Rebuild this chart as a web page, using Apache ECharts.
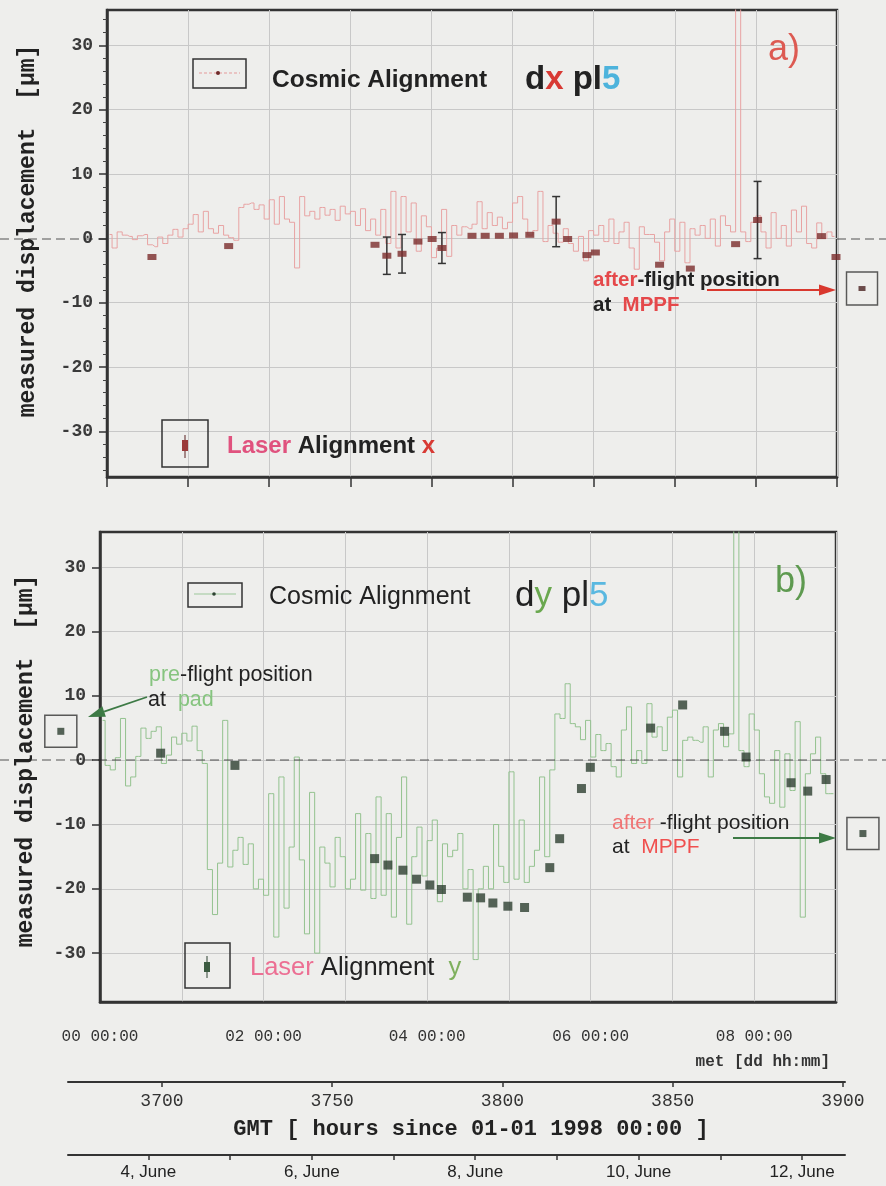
<!DOCTYPE html>
<html>
<head>
<meta charset="utf-8">
<script src="https://cdn.jsdelivr.net/npm/echarts@6/dist/echarts.min.js"></script>
<style>
  html, body { margin: 0; padding: 0; background: #eeeeec; }
  #chart { width: 886px; height: 1186px; }
</style>
</head>
<body>
<div id="chart"></div>
<script>
// ---- data -------------------------------------------------------------
// Cosmic-ray alignment histograms: one value per 1.5 h bin of mission elapsed time (MET)
const binHours = 1.5;
const cosmicDx = [
  0.6, -1.5,
  1.0, 0.5, 0.3, -0.2, 0.4, 0.6,
  -1.0, -1.3, 0.2, -0.8,   0.5, 1.4, 0.2, 1.5,   2.2, 3.7, 1.0, 4.2,   1.5, 0.8, 2.0, 0.5,
  0.1, -0.3, 4.8, 5.3,     5.5, 4.5, 5.2, 3.0,   6.0, 2.2, 6.5, 3.0,   2.5, -4.6, 6.5, 3.5,
  4.2, 3.0, 4.8, 3.6,      4.5, 2.8, 5.0, 3.8,   4.2, 2.0, 4.6, 1.2,   3.0, 0.5, 4.5, -0.8,
  7.3, -1.5, 6.5, 1.0,     5.5, -2.0, 3.5, 1.8,  -3.0, -1.5, 4.5, -2.8, 2.0, 0.5, 1.8, 1.5,
  2.2, 5.7, 1.5, 4.0,      2.0, 3.3, 1.5, 2.5,   5.5, 6.5, 3.0, 0.5,   1.2, 7.3, -0.5, 2.0,
  0.8, -0.6, 1.5, -0.8,   -2.0, 0.3, -3.5, 1.2,  0.5, 2.0, -0.5, 3.0,  -0.8, 1.0, 2.5, -1.5,
  -4.8, 1.8, 0.6, 0.6,    -0.6, -3.5, 1.0, 3.0, -2.0, 2.5, -3.8, 1.5,  0.5, 2.0, 0.0, 3.0,
  -1.2, 3.5, 2.0, 1.0,     60, 1.0, -0.5, 2.5,   3.5, 1.0, -1.5, 4.0,  0.0, 2.0, -1.2, 4.4,
  1.0, 5.0, -0.8, -1.5,    2.4, 0.0, 1.0, 0.3
];
const cosmicDy = [
  6.2, -0.8, -1.5, 0.4, 6.5, -4.0, -2.6, 0.6, 5.0, 3.4, 4.5, 5.2,
  -0.5, 0.8, 3.6, 2.5, 4.2, 3.0, 5.3, 1.5, -0.5, -17.0, -24.0, -16.0,
  6.2, -16.6, -14.0, -12.0, -16.2, -13.0, -20.0, -18.5, -21.0, -5.2, -27.5, -2.6,
  -23.0, -13.5, 0.5, -15.5, -27.0, -5.0, -30.0, -13.5, -16.0, -19.7, -12.0, -15.0,
  -20.0, -18.5, -8.3, -20.2, -11.4, -21.5, -5.7, -21.0, -8.3, -24.4, -12.0, -2.6,
  -25.5, -15.0, -10.4, -18.0, -12.5, -9.3, -22.0, -13.0, -15.0, -14.0, -11.4, -20.0,
  -17.0, -31.0, -20.0, -16.5, -20.0, -10.0, -16.5, -19.0, -1.8, -18.5, -9.3, -19.0,
  -16.5, -14.0, -2.6, -15.0, -1.5, 7.2, 6.5, 11.9, 5.7, 5.2, 3.2, 6.2,
  0.5, 4.0, 1.5, 2.6, -1.0, -2.6, 4.7, 8.3, -0.5, 1.5, -0.5, 8.8,
  3.6, 5.2, 1.5, 6.7, 7.8, -2.6, 3.1, 3.6, 3.1, 2.8, 5.2, -2.6,
  4.7, 5.7, 2.1, 4.1, 60, 1.5, -1.0, 7.2, 4.7, -2.1, -5.7, -6.7,
  1.5, -7.3, 1.0, -4.7, 6.0, -24.4, -2.1, 1.0, 3.6, -2.1, -5.2, -5.2
];

// Laser alignment, x (hours MET, displacement, error)
const laserXHours = [13.3, 36.0, 79.3, 82.8, 87.3, 92.0, 96.2, 99.1, 108.0, 111.9, 116.1, 120.3,
                     125.1, 132.9, 136.3, 142.0, 144.5, 163.5, 172.6, 186.0, 192.5, 211.4, 215.7];
const laserX      = [-2.9, -1.2, -1.0, -2.7, -2.4, -0.5, -0.1, -1.5, 0.4, 0.4, 0.4, 0.45,
                     0.55, 2.6, -0.1, -2.6, -2.2, -4.1, -4.7, -0.9, 2.85, 0.35, -2.9];
const laserXErr   = [0, 0, 0, 2.9, 3.0, 0, 0, 2.4, 0, 0, 0, 0,
                     0, 3.9, 0, 0, 0, 0, 0, 0, 6.0, 0, 0];

// Laser alignment, y
const laserYHours = [17.8, 39.6, 80.6, 84.5, 88.9, 92.9, 96.8, 100.2, 107.8, 111.7, 115.3, 119.7,
                     124.6, 132.0, 134.9, 141.3, 143.9, 161.6, 171.0, 183.3, 189.6, 202.8, 207.7, 213.1];
const laserY      = [1.1, -0.8, -15.3, -16.3, -17.1, -18.5, -19.4, -20.1, -21.3, -21.4, -22.2, -22.7,
                     -22.9, -16.7, -12.2, -4.4, -1.1, 5.0, 8.6, 4.5, 0.5, -3.5, -4.8, -3.0];

// Reference positions measured on ground
const afterFlightXHours = [223.4];
const afterFlightX      = [-7.8];
const afterFlightYHours = [223.9];
const afterFlightY      = [-11.4];
const preFlightYHours   = [-11.5];
const preFlightY        = [4.5];

// Tick positions and labels
const yTicks = [-30, -20, -10, 0, 10, 20, 30];
const yMinorTicks = [-36, -34, -32, -28, -26, -24, -22, -18, -16, -14, -12, -8, -6, -4, -2,
                     2, 4, 6, 8, 12, 14, 16, 18, 22, 24, 26, 28, 32, 34];
const metLabelHours = [0, 48, 96, 144, 192];
const gmtTicks = [3700, 3750, 3800, 3850, 3900];
const dateTicks = [3696, 3720, 3744, 3768, 3792, 3816, 3840, 3864, 3888];
const dateLabelHours = [3696, 3744, 3792, 3840, 3888];
const dateLabelText = ['4, June', '6, June', '8, June', '10, June', '12, June'];

// ---- layout -----------------------------------------------------------
const W = 886;
const hourSpan = 216;
const A = { left: 107, top: 10, width: 730, height: 467, yMin: -37.1, yMax: 35.5 };
const B = { left: 100, top: 532, width: 736, height: 470, yMin: -37.6, yMax: 35.5 };
function overlayRange(p) {
  const k = p.width / hourSpan;
  return [-p.left / k, (W - p.left) / k];
}
const oA = overlayRange(A), oB = overlayRange(B);
const gmtRange = [3672.4, 3900.6];

const ink = '#222';
const mono = '"Liberation Mono", "DejaVu Sans Mono", monospace';
const sans = '"Liberation Sans", Arial, sans-serif';
const narrow = '"Liberation Sans Narrow", "Liberation Sans", sans-serif';

const stepData = vals => vals.map((v, i) => [binHours * (i + 0.5), v]);
const pairs = (xs, ys) => xs.map((x, i) => [x, ys[i]]);

function panelY(p, idx) {
  return {
    gridIndex: idx, type: 'value', min: p.yMin, max: p.yMax,
    axisLine: { show: true, onZero: false, lineStyle: { color: '#333', width: 2.5 } },
    axisTick: { show: true, customValues: yTicks, length: 8, lineStyle: { color: '#333', width: 1.5 } },
    axisLabel: { customValues: yTicks, margin: 14, fontFamily: mono, fontSize: 18, fontWeight: 'bold', color: '#3a3a3a' },
    splitLine: { show: true, lineStyle: { color: '#c8c8c8', width: 1 } }
  };
}
function minorY(p, idx) {
  return {
    gridIndex: idx, type: 'value', min: p.yMin, max: p.yMax, position: 'left',
    axisLine: { show: false, onZero: false },
    axisTick: { show: true, customValues: yMinorTicks, length: 4, lineStyle: { color: '#444', width: 1 } },
    axisLabel: { show: false }, splitLine: { show: false }
  };
}
function hiddenAxis(idx, min, max) {
  return { gridIndex: idx, type: 'value', min, max, show: false, splitLine: { show: false } };
}

function metLabel(h) {
  const d = String(Math.floor(h / 24)).padStart(2, '0');
  const hh = String(h % 24).padStart(2, '0');
  return d + ' ' + hh + ':00';
}

// ---- annotation helpers -------------------------------------------------
function richText(x, y, parts, size, weight) {
  const rich = {};
  let text = '';
  parts.forEach(([s, c], i) => {
    rich['p' + i] = { fill: c, fontSize: size, fontWeight: weight, fontFamily: sans };
    text += '{p' + i + '|' + s + '}';
  });
  return { type: 'text', x, y, z: 50,
    style: { text, rich, align: 'left', verticalAlign: 'middle', fontSize: size, fontFamily: sans } };
}
function arrow(x1, y1, x2, y2, color) {
  const a = Math.atan2(y2 - y1, x2 - x1), L = 17, H = 5.5;
  const bx = x2 - L * Math.cos(a), by = y2 - L * Math.sin(a);
  return [
    { type: 'line', z: 50, shape: { x1, y1, x2: bx, y2: by }, style: { stroke: color, lineWidth: 1.8 } },
    { type: 'polygon', z: 50, shape: { points: [[x2, y2],
        [bx + H * Math.sin(a), by - H * Math.cos(a)], [bx - H * Math.sin(a), by + H * Math.cos(a)]] },
      style: { fill: color } }
  ];
}
function box(x, y, w, h) {
  return { type: 'rect', z: 50, shape: { x, y, width: w, height: h },
    style: { fill: 'none', stroke: '#333', lineWidth: 1.5 } };
}

const graphics = [
  // panel a
  box(193, 59, 53, 29),
  { type: 'line', z: 51, shape: { x1: 199, y1: 73, x2: 240, y2: 73 },
    style: { stroke: '#e59a9a', lineWidth: 1, lineDash: [3, 2] } },
  { type: 'circle', z: 52, shape: { cx: 218, cy: 73, r: 2 }, style: { fill: '#6e2a2a' } },
  richText(272, 80, [['Cosmic Alignment', ink]], 24.5, 'bold'),
  richText(525, 80, [['d', ink], ['x', '#d83a34'], [' pl', ink], ['5', '#4db3dc']], 33, 'bold'),
  richText(768, 50, [['a)', '#dd5a52']], 36, 'normal'),
  box(162, 420, 46, 47),
  { type: 'line', z: 51, shape: { x1: 185, y1: 435, x2: 185, y2: 458 }, style: { stroke: '#5a2020', lineWidth: 1 } },
  { type: 'rect', z: 52, shape: { x: 182, y: 440, width: 6, height: 11 }, style: { fill: '#9a3a3a' } },
  richText(227, 446, [['Laser', '#e0527e'], [' Alignment ', ink], ['x', '#d83a34']], 24, 'bold'),
  richText(593, 280, [['after', '#e5484a'], ['-flight position', ink]], 20.5, 'bold'),
  richText(593, 305, [['at  ', ink], ['MPPF', '#e5484a']], 20.5, 'bold'),
  ...arrow(707, 290, 836, 290, '#d9382e'),
  { type: 'text', z: 50, x: 28, y: 231, rotation: Math.PI / 2,
    style: { text: 'measured displacement  [μm]', font: 'bold 23px ' + mono, fill: ink, align: 'center', verticalAlign: 'middle' } },

  // panel b
  box(188, 583, 54, 24),
  { type: 'line', z: 51, shape: { x1: 194, y1: 594, x2: 236, y2: 594 }, style: { stroke: '#9cc79a', lineWidth: 1 } },
  { type: 'circle', z: 52, shape: { cx: 214, cy: 594, r: 1.8 }, style: { fill: '#2e4232' } },
  richText(269, 597, [['Cosmic Alignment', ink]], 25, 'normal'),
  richText(515, 596, [['d', ink], ['y', '#6aa84f'], [' pl', ink], ['5', '#5ab8e0']], 35, 'normal'),
  richText(775, 582, [['b)', '#5e9a50']], 36, 'normal'),
  richText(149, 675, [['pre', '#86c47f'], ['-flight position', ink]], 21.5, 'normal'),
  richText(148, 700, [['at  ', ink], ['pad', '#86c47f']], 21.5, 'normal'),
  ...arrow(147, 697, 88, 717, '#3d7a45'),
  box(185, 943, 45, 45),
  { type: 'line', z: 51, shape: { x1: 207, y1: 956, x2: 207, y2: 978 }, style: { stroke: '#2e4232', lineWidth: 1 } },
  { type: 'rect', z: 52, shape: { x: 204, y: 962, width: 6, height: 10 }, style: { fill: '#3b5a40' } },
  richText(250, 968, [['Laser', '#ec6f93'], [' Alignment  ', ink], ['y', '#7fb05e']], 25.5, 'normal'),
  richText(612, 823, [['after', '#f07474'], [' -flight position', ink]], 21, 'normal'),
  richText(612, 847, [['at  ', ink], ['MPPF', '#f0504f']], 21, 'normal'),
  ...arrow(733, 838, 836, 838, '#3d7a45'),
  { type: 'text', z: 50, x: 26, y: 761, rotation: Math.PI / 2,
    style: { text: 'measured displacement  [μm]', font: 'bold 23px ' + mono, fill: ink, align: 'center', verticalAlign: 'middle' } },

  // time scales
  { type: 'text', z: 50, x: 830, y: 1062,
    style: { text: 'met [dd hh:mm]', font: 'bold 16px ' + mono, fill: '#333', align: 'right', verticalAlign: 'middle' } },
  { type: 'text', z: 50, x: 471, y: 1129,
    style: { text: 'GMT [ hours since 01-01 1998 00:00 ]', font: 'bold 22px ' + mono, fill: ink, align: 'center', verticalAlign: 'middle' } }
];

// ---- chart --------------------------------------------------------------
const chart = echarts.init(document.getElementById('chart'));

const zeroDash = { color: '#222', width: 1.6, type: [9, 5] };
const plain = v => String(v);

chart.setOption({
  backgroundColor: '#eeeeec',
  animation: false,
  grid: [
    { left: A.left, top: A.top, width: A.width, height: A.height, show: true, borderColor: '#333', borderWidth: 2.5, backgroundColor: 'transparent', outerBoundsMode: 'none' },
    { left: B.left, top: B.top, width: B.width, height: B.height, show: true, borderColor: '#333', borderWidth: 2.5, backgroundColor: 'transparent', outerBoundsMode: 'none' },
    { left: 0, top: A.top, width: W, height: A.height, outerBoundsMode: 'none' },
    { left: 0, top: B.top, width: W, height: B.height, outerBoundsMode: 'none' },
    { left: 68, top: 1081, width: 777, height: 1, outerBoundsMode: 'none' },
    { left: 68, top: 1154, width: 777, height: 1, outerBoundsMode: 'none' }
  ],
  xAxis: [
    { gridIndex: 0, type: 'value', min: 0, max: hourSpan, interval: 24, position: 'bottom',
      axisLine: { show: true, onZero: false, lineStyle: { color: '#333', width: 2.5 } },
      axisTick: { show: true, length: 10, lineStyle: { color: '#333', width: 1.5 } },
      axisLabel: { show: false },
      splitLine: { show: true, lineStyle: { color: '#c8c8c8', width: 1 } } },
    { gridIndex: 1, type: 'value', min: 0, max: hourSpan, interval: 24, position: 'bottom',
      axisLine: { show: true, onZero: false, lineStyle: { color: '#333', width: 2.5 } },
      axisTick: { show: false },
      axisLabel: { customValues: metLabelHours, formatter: metLabel, margin: 27,
                   fontFamily: mono, fontSize: 16, color: '#333' },
      splitLine: { show: true, lineStyle: { color: '#c8c8c8', width: 1 } } },
    hiddenAxis(2, oA[0], oA[1]),
    hiddenAxis(3, oB[0], oB[1]),
    { gridIndex: 4, type: 'value', min: gmtRange[0], max: gmtRange[1], position: 'bottom',
      axisLine: { show: true, onZero: false, lineStyle: { color: '#333', width: 2 } },
      axisTick: { show: true, customValues: gmtTicks, length: 5, lineStyle: { color: '#333', width: 1.5 } },
      axisLabel: { customValues: gmtTicks, formatter: plain, margin: 10, fontFamily: mono, fontSize: 18, color: '#333' },
      splitLine: { show: false } },
    { gridIndex: 5, type: 'value', min: gmtRange[0], max: gmtRange[1], position: 'bottom',
      axisLine: { show: true, onZero: false, lineStyle: { color: '#333', width: 2 } },
      axisTick: { show: true, customValues: dateTicks, length: 5, lineStyle: { color: '#333', width: 1.5 } },
      axisLabel: { customValues: dateLabelHours, margin: 9, fontFamily: narrow, fontSize: 17, color: '#222',
                   formatter: v => dateLabelText[dateLabelHours.indexOf(v)] },
      splitLine: { show: false } }
  ],
  yAxis: [
    panelY(A, 0),
    panelY(B, 1),
    hiddenAxis(2, A.yMin, A.yMax),
    hiddenAxis(3, B.yMin, B.yMax),
    hiddenAxis(4, 0, 1),
    hiddenAxis(5, 0, 1),
    minorY(A, 0)
  ],
  graphic: { elements: graphics },
  series: [
    // panel a: cosmic dx histogram
    { type: 'line', xAxisIndex: 0, yAxisIndex: 0, step: 'middle', showSymbol: false, symbol: 'none',
      data: stepData(cosmicDx), lineStyle: { color: '#e8a3a3', width: 1 }, z: 3, clip: true },
    // panel a: laser error bars
    { type: 'custom', xAxisIndex: 0, yAxisIndex: 0, z: 5, clip: true,
      data: laserXHours.map((h, i) => [h, laserX[i], laserXErr[i]]),
      renderItem(params, api) {
        const e = api.value(2);
        if (!e) return null;
        const x = api.value(0), y = api.value(1);
        const t = api.coord([x, y + e]), b = api.coord([x, y - e]);
        const s = { stroke: '#333', lineWidth: 1.5 };
        return { type: 'group', children: [
          { type: 'line', shape: { x1: t[0], y1: t[1], x2: b[0], y2: b[1] }, style: s },
          { type: 'line', shape: { x1: t[0] - 4, y1: t[1], x2: t[0] + 4, y2: t[1] }, style: s },
          { type: 'line', shape: { x1: b[0] - 4, y1: b[1], x2: b[0] + 4, y2: b[1] }, style: s }
        ] };
      } },
    // panel a: laser points
    { type: 'scatter', xAxisIndex: 0, yAxisIndex: 0, symbol: 'rect', symbolSize: [9, 6], z: 6,
      data: pairs(laserXHours, laserX), itemStyle: { color: '#7a2c2c' } },
    // panel b: cosmic dy histogram
    { type: 'line', xAxisIndex: 1, yAxisIndex: 1, step: 'middle', showSymbol: false, symbol: 'none',
      data: stepData(cosmicDy), lineStyle: { color: '#93c28f', width: 1 }, z: 3, clip: true },
    // panel b: laser points
    { type: 'scatter', xAxisIndex: 1, yAxisIndex: 1, symbol: 'rect', symbolSize: [9, 9], z: 6,
      data: pairs(laserYHours, laserY), itemStyle: { color: '#2d3f31' } },
    // zero reference lines
    { type: 'lines', coordinateSystem: 'cartesian2d', xAxisIndex: 2, yAxisIndex: 2, z: 8,
      data: [{ coords: [[oA[0], 0], [0, 0]] }, { coords: [[hourSpan, 0], [oA[1], 0]] }],
      lineStyle: zeroDash },
    { type: 'lines', coordinateSystem: 'cartesian2d', xAxisIndex: 3, yAxisIndex: 3, z: 8,
      data: [{ coords: [[oB[0], 0], [oB[1], 0]] }],
      lineStyle: zeroDash },
    // ground positions with their frames
    { type: 'scatter', xAxisIndex: 2, yAxisIndex: 2, symbol: 'rect', symbolSize: [31, 33], z: 9,
      data: pairs(afterFlightXHours, afterFlightX),
      itemStyle: { color: 'rgba(0,0,0,0)', borderColor: '#333', borderWidth: 1.5 } },
    { type: 'scatter', xAxisIndex: 2, yAxisIndex: 2, symbol: 'rect', symbolSize: [7, 5], z: 10,
      data: pairs(afterFlightXHours, afterFlightX), itemStyle: { color: '#4a2222' } },
    { type: 'scatter', xAxisIndex: 3, yAxisIndex: 3, symbol: 'rect', symbolSize: [32, 32], z: 9,
      data: pairs(afterFlightYHours, afterFlightY).concat(pairs(preFlightYHours, preFlightY)),
      itemStyle: { color: 'rgba(0,0,0,0)', borderColor: '#333', borderWidth: 1.5 } },
    { type: 'scatter', xAxisIndex: 3, yAxisIndex: 3, symbol: 'rect', symbolSize: [7, 7], z: 10,
      data: pairs(afterFlightYHours, afterFlightY).concat(pairs(preFlightYHours, preFlightY)),
      itemStyle: { color: '#2d3f31' } }
  ]
});
</script>
</body>
</html>
